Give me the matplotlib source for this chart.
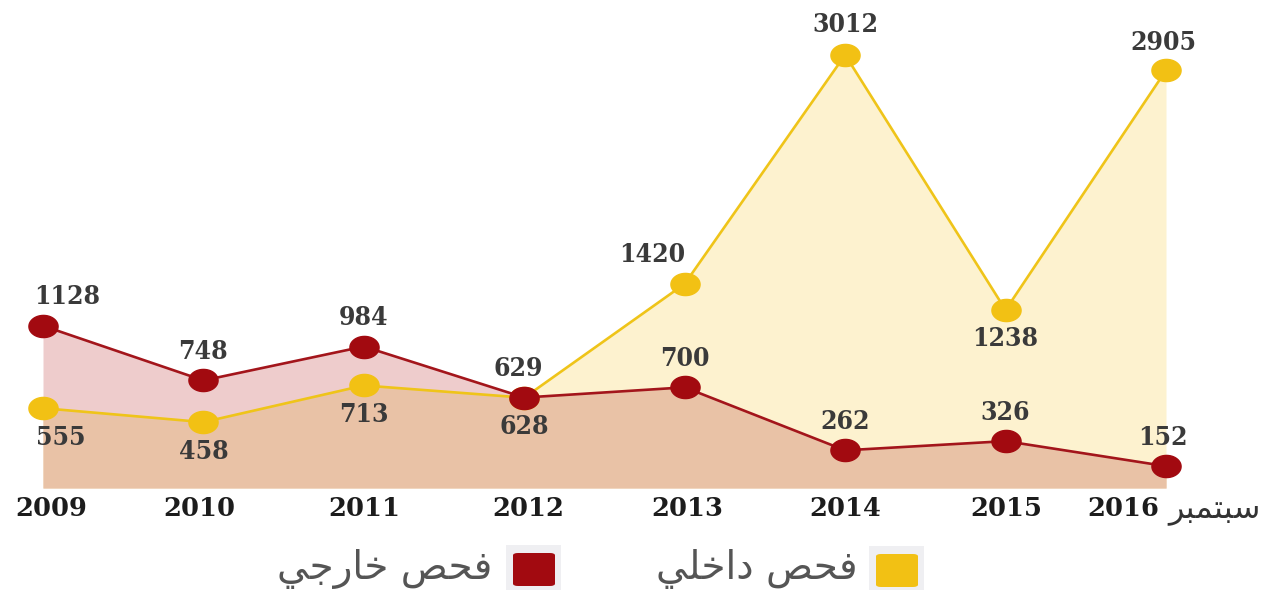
import numpy as np
import matplotlib
matplotlib.use("Agg")
import matplotlib.pyplot as plt
from matplotlib.path import Path
from matplotlib.patches import FancyBboxPatch, Rectangle

# ---------------- data ----------------
years = ["2009", "2010", "2011", "2012", "2013", "2014", "2015", "2016"]
month_label = "سبتمبر"
external = [1128, 748, 984, 629, 700, 262, 326, 152]      # فحص خارجي (red)
internal = [555, 458, 713, 628, 1420, 3012, 1238, 2905]   # فحص داخلي (yellow)
legend_labels = ["فحص خارجي", "فحص داخلي"]

# ---------------- Arabic shaping helper (matplotlib has no shaping) ----------------
FORMS = {
    'ا': (0xFE8D, 0xFE8E, None, None),
    'ب': (0xFE8F, 0xFE90, 0xFE91, 0xFE92),
    'ت': (0xFE95, 0xFE96, 0xFE97, 0xFE98),
    'ج': (0xFE9D, 0xFE9E, 0xFE9F, 0xFEA0),
    'ح': (0xFEA1, 0xFEA2, 0xFEA3, 0xFEA4),
    'خ': (0xFEA5, 0xFEA6, 0xFEA7, 0xFEA8),
    'د': (0xFEA9, 0xFEAA, None, None),
    'ر': (0xFEAD, 0xFEAE, None, None),
    'س': (0xFEB1, 0xFEB2, 0xFEB3, 0xFEB4),
    'ص': (0xFEB9, 0xFEBA, 0xFEBB, 0xFEBC),
    'ف': (0xFED1, 0xFED2, 0xFED3, 0xFED4),
    'ل': (0xFEDD, 0xFEDE, 0xFEDF, 0xFEE0),
    'م': (0xFEE1, 0xFEE2, 0xFEE3, 0xFEE4),
    'ي': (0xFEF1, 0xFEF2, 0xFEF3, 0xFEF4),
}


def shape(s):
    out = []
    for i, c in enumerate(s):
        if c not in FORMS:
            out.append(c)
            continue
        f = FORMS[c]
        prev = s[i - 1] if i > 0 else None
        nxt = s[i + 1] if i + 1 < len(s) else None
        jp = prev in FORMS and FORMS[prev][2] is not None
        jn = f[2] is not None and nxt in FORMS
        if jp and jn:
            code = f[3]
        elif jp:
            code = f[1]
        elif jn:
            code = f[2]
        else:
            code = f[0]
        out.append(chr(code))
    return ''.join(reversed(out))


# ---------------- styling ----------------
RED_LINE = "#a3151b"
RED_MARK = "#a20a10"
YEL_LINE = "#efc419"
YEL_MARK = "#f2c114"
PINK = "#eecccc"
TAN = "#e9c2a6"
LIGHT_YEL = "#fdf2cf"
TXT = "#3a3a3a"

W, H = 1267, 590
fig = plt.figure(figsize=(W / 100, H / 100), dpi=100)
ax = fig.add_axes([0, 0, 1, 1])
ax.set_axis_off()

x0_px, step_px = 43, 160.43
base_px, scale = 488, 0.1438
ax.set_xlim(-x0_px / step_px, (W - x0_px) / step_px)
ax.set_ylim(-(H - base_px) / scale, base_px / scale)

x = np.arange(len(years))
ext = np.array(external)
inn = np.array(internal)

ax.fill_between(x, 0, ext, color=PINK, lw=0, zorder=1)
ax.fill_between(x, 0, inn, color=LIGHT_YEL, lw=0, zorder=1.1)
ax.fill_between(x, 0, np.minimum(ext, inn), color=TAN, lw=0, zorder=1.2)

# ellipse marker
t = np.linspace(0, 2 * np.pi, 60)
ell = Path(np.column_stack([np.cos(t), 0.76 * np.sin(t)]), closed=True)

ax.plot(x, inn, color=YEL_LINE, lw=1.9, zorder=3)
ax.plot(x, inn, ls="none", marker=ell, ms=21, mfc=YEL_MARK, mec=YEL_MARK, zorder=4)
ax.plot(x, ext, color=RED_LINE, lw=1.9, zorder=5)
ax.plot(x, ext, ls="none", marker=ell, ms=21, mfc=RED_MARK, mec=RED_MARK, zorder=6)

num_font = dict(family="DejaVu Serif", fontstretch="condensed", fontweight="bold",
                fontsize=19, color=TXT)
PT = 0.72  # px -> pt at 100 dpi

ext_dx = [24, 0, 0, -6, 0, 0, 0, -3]
for i, v in enumerate(external):
    ax.annotate(str(v), xy=(i, v), xytext=(ext_dx[i] * PT, 29 * PT), textcoords="offset points",
                ha="center", va="center", zorder=7, **num_font)

inn_dy = [-29, -29, -29, -29, 29, 30, -29, 28]
inn_dx = [18, 0, 0, 0, -33, 0, 0, -3]
for i, v in enumerate(internal):
    ax.annotate(str(v), xy=(i, v), xytext=(inn_dx[i] * PT, inn_dy[i] * PT), textcoords="offset points",
                ha="center", va="center", zorder=7, **num_font)

year_dx = [8, -4, 0, 4, 3, 0, 1, -43]
for i, yl in enumerate(years):
    ax.annotate(yl, xy=(i, 0), xytext=(year_dx[i] * PT, -21 * PT), textcoords="offset points",
                ha="center", va="center", family="DejaVu Serif", fontweight="bold",
                fontsize=18.5, color="#1c1c1c")

ax.annotate(shape(month_label), xy=(7, 0), xytext=(2 * PT, -23 * PT), textcoords="offset points",
            ha="left", va="center", family="DejaVu Sans", fontsize=23, color="#333333")

# ---------------- legend ----------------
def px_box(l, t_, r, b):
    return (l / W, 1 - b / H, (r - l) / W, (b - t_) / H)

for (l, t_, r, b), col, lab, tx in [((513, 553, 555, 586), RED_MARK, legend_labels[0], 492),
                                      ((876, 554, 918, 587), YEL_MARK, legend_labels[1], 858)]:
    gx, gy, gw, gh = px_box(l - 7, t_ - 8, r + 6, b + 4)
    fig.add_artist(Rectangle((gx, gy), gw, gh, transform=fig.transFigure,
                             facecolor="#efeff2", edgecolor="none"))
    bx, by, bw, bh = px_box(l, t_, r, b)
    fig.add_artist(FancyBboxPatch((bx, by), bw, bh, boxstyle="round,pad=0,rounding_size=0.004",
                                  transform=fig.transFigure, facecolor=col, edgecolor="none"))
    fig.text(tx / W, 1 - 569 / H, shape(lab), ha="right", va="center",
             family="DejaVu Sans", fontsize=28, color="#555555")

fig.savefig("out.png", dpi=100, facecolor="white")
